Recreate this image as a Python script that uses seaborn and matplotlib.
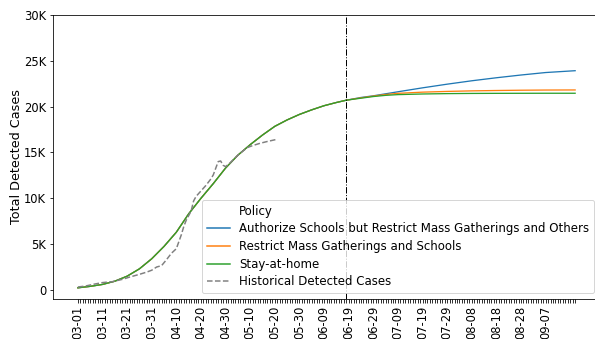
import matplotlib
matplotlib.use("Agg")
import matplotlib.pyplot as plt
from matplotlib.lines import Line2D
from matplotlib.ticker import FuncFormatter
import seaborn as sns
import pandas as pd

# Projected totals per policy (shared history up to 06-18, then branching)
model_dates = [
    "2020-03-01", "2020-03-06", "2020-03-11", "2020-03-16", "2020-03-21",
    "2020-03-26", "2020-03-31", "2020-04-05", "2020-04-10", "2020-04-15",
    "2020-04-20", "2020-04-25", "2020-04-30", "2020-05-05", "2020-05-10",
    "2020-05-15", "2020-05-20", "2020-05-25", "2020-05-30", "2020-06-04",
    "2020-06-09", "2020-06-14", "2020-06-18", "2020-06-24", "2020-06-29",
    "2020-07-04", "2020-07-09", "2020-07-19", "2020-07-29", "2020-08-08",
    "2020-08-18", "2020-08-28", "2020-09-07", "2020-09-19",
]
authorize_schools = [
    230, 390, 600, 950, 1500, 2300, 3400, 4750, 6300, 8300,
    10000, 11600, 13300, 14700, 15850, 16900, 17850, 18550, 19150, 19650,
    20100, 20450, 20700, 21000, 21180, 21400, 21620, 22050, 22450, 22820,
    23150, 23450, 23720, 23920,
]
restrict_schools = [
    230, 390, 600, 950, 1500, 2300, 3400, 4750, 6300, 8300,
    10000, 11600, 13300, 14700, 15850, 16900, 17850, 18550, 19150, 19650,
    20100, 20450, 20700, 20960, 21150, 21320, 21450, 21580, 21660, 21720,
    21760, 21790, 21810, 21820,
]
stay_at_home = [
    230, 390, 600, 950, 1500, 2300, 3400, 4750, 6300, 8300,
    10000, 11600, 13300, 14700, 15850, 16900, 17850, 18550, 19150, 19650,
    20100, 20450, 20700, 20920, 21100, 21230, 21310, 21380, 21420, 21440,
    21450, 21455, 21460, 21460,
]
policy_names = [
    "Authorize Schools but Restrict Mass Gatherings and Others",
    "Restrict Mass Gatherings and Schools",
    "Stay-at-home",
]

# Observed cumulative detected cases
hist_dates = [
    "2020-03-01", "2020-03-04", "2020-03-08", "2020-03-11", "2020-03-15",
    "2020-03-19", "2020-03-22", "2020-03-26", "2020-03-29", "2020-03-31",
    "2020-04-02", "2020-04-04", "2020-04-06", "2020-04-08", "2020-04-10",
    "2020-04-12", "2020-04-13", "2020-04-14", "2020-04-16", "2020-04-17",
    "2020-04-18", "2020-04-20", "2020-04-22", "2020-04-24", "2020-04-25",
    "2020-04-27", "2020-04-28", "2020-04-29", "2020-04-30", "2020-05-02",
    "2020-05-03", "2020-05-05", "2020-05-07", "2020-05-09", "2020-05-11",
    "2020-05-14", "2020-05-17", "2020-05-21",
]
hist_cases = [
    320, 420, 650, 800, 900,
    1150, 1400, 1700, 1950, 2150,
    2500, 2650, 3300, 4000, 4500,
    6000, 6900, 7600, 8600, 9700,
    10200, 10800, 11400, 12100, 12550,
    14000, 14070, 13600, 13450, 13900,
    14180, 14700, 15150, 15550, 15750,
    16000, 16200, 16440,
]

intervention_date = "2020-06-18"
axis_start, axis_end = "2020-03-01", "2020-09-19"
last_label = "2020-09-07"

# Long-form frame for seaborn
frames = []
for name, vals in zip(policy_names, [authorize_schools, restrict_schools, stay_at_home]):
    frames.append(pd.DataFrame({"Date": pd.to_datetime(model_dates),
                                "Total Detected Cases": vals,
                                "Policy": name}))
df = pd.concat(frames, ignore_index=True)
hist = pd.DataFrame({"Date": pd.to_datetime(hist_dates), "Cases": hist_cases})

plt.rcParams["font.family"] = ["DejaVu Sans"]
plt.rcParams["font.size"] = 11.5

fig = plt.figure(figsize=(595 / 72, 339 / 72), dpi=72)
ax = fig.add_axes([0.0891, 0.118, 0.9193, 0.8378])

palette = sns.color_palette("tab10", 3)
sns.lineplot(data=df, x="Date", y="Total Detected Cases", hue="Policy",
             hue_order=policy_names, palette=palette, linewidth=1.3,
             ax=ax, legend=False)
sns.lineplot(data=hist, x="Date", y="Cases", color="grey", linestyle="--",
             linewidth=1.5, ax=ax)
ax.axvline(pd.Timestamp(intervention_date), color="black", linestyle="-.",
           linewidth=1.0)

# Daily ticks, labelled every ten days
days = pd.date_range(axis_start, axis_end, freq="D")
ax.set_xticks(days)
ax.set_xticklabels([d.strftime("%m-%d")
                    if i % 10 == 0 and d <= pd.Timestamp(last_label) else ""
                    for i, d in enumerate(days)], rotation=90, fontsize=11.5)
span = days[-1] - days[0]
ax.set_xlim(days[0] - span * 0.05, days[-1] + span * 0.05)

ax.set_yticks(range(0, 30001, 5000))
ax.yaxis.set_major_formatter(FuncFormatter(
    lambda v, p: "0" if v == 0 else f"{int(v / 1000)}K"))
ax.tick_params(axis="y", labelsize=11.5)
ax.set_ylim(-990, 30000)
ax.set_xlabel("")
ax.set_ylabel("Total Detected Cases", fontsize=12.8, labelpad=1)

handles = [Line2D([], [], linestyle="none")]
handles += [Line2D([], [], color=c, linewidth=1.5) for c in palette]
handles += [Line2D([], [], color="grey", linestyle="--", linewidth=1.5)]
labels = ["Policy"] + policy_names + ["Historical Detected Cases"]
ax.legend(handles, labels, loc="lower right", fontsize=11.7, labelspacing=0.4)

fig.savefig("out.png", dpi=72)
